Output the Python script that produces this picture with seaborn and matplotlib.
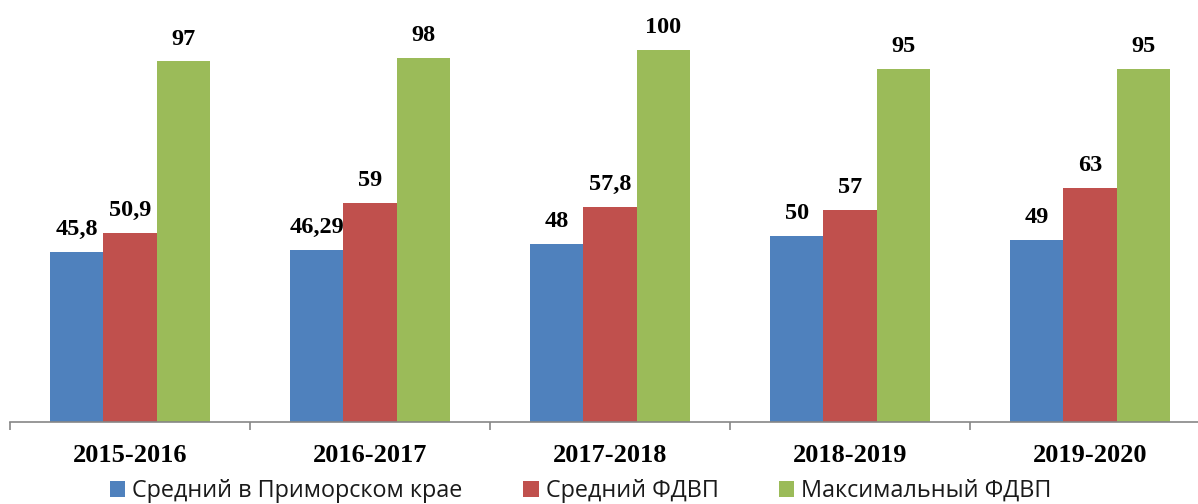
import matplotlib
matplotlib.use("Agg")
import matplotlib.pyplot as plt
import seaborn as sns
import pandas as pd
from matplotlib.ticker import FixedLocator

categories = ["2015-2016", "2016-2017", "2017-2018", "2018-2019", "2019-2020"]
series_names = ["Средний в Приморском крае", "Средний ФДВП", "Максимальный ФДВП"]
avg_primorsky = [45.8, 46.29, 48, 50, 49]
avg_fdvp = [50.9, 59, 57.8, 57, 63]
max_fdvp = [97, 98, 100, 95, 95]
colors = ["#4F81BD", "#C0504D", "#9BBB59"]

rows = []
for name, vals in zip(series_names, [avg_primorsky, avg_fdvp, max_fdvp]):
    for c, v in zip(categories, vals):
        rows.append({"period": c, "series": name, "value": v})
df = pd.DataFrame(rows)

sns.set_theme(style="white")
plt.rcParams["font.family"] = ["DejaVu Sans"]

fig = plt.figure(figsize=(11.98, 5.04), dpi=100)
W, H = 1198, 504
ax = fig.add_axes([10 / W, 82 / H, 1200 / W, 409 / H])

sns.barplot(data=df, x="period", y="value", hue="series", palette=colors,
            width=2 / 3, saturation=1, order=categories, hue_order=series_names,
            ax=ax, errorbar=None, linewidth=0)

ax.set_xlim(-0.5, 4.5)
ax.set_ylim(0, 110)

for cont in ax.containers:
    labels = [f"{b.get_height():g}".replace(".", ",") for b in cont]
    ax.bar_label(cont, labels=labels, padding=8.5, fontsize=17.5, fontweight="bold",
                 family="Liberation Serif", color="black")

for s in ["top", "right", "left"]:
    ax.spines[s].set_visible(False)
ax.spines["bottom"].set_color("#868686")
ax.spines["bottom"].set_linewidth(1.2)
ax.set_yticks([])
ax.set_xlabel("")
ax.set_ylabel("")
ax.tick_params(axis="x", which="major", length=0, pad=16, bottom=False)
ax.xaxis.set_minor_locator(FixedLocator([-0.5, 0.5, 1.5, 2.5, 3.5, 4.5]))
ax.tick_params(axis="x", which="minor", length=5.5, width=1.2, color="#868686",
               direction="out", bottom=True)
for t in ax.get_xticklabels():
    t.set_fontfamily("Liberation Serif")
    t.set_fontweight("bold")
    t.set_fontsize(19)
    t.set_color("black")

handles, labels = ax.get_legend_handles_labels()
ax.get_legend().remove()
leg = fig.legend(handles, labels, loc="center", bbox_to_anchor=(581 / W, 1 - 491 / H),
                 ncol=3, frameon=False, prop={"family": "Open Sans", "size": 16.8},
                 handlelength=0.65, handleheight=0.65, handletextpad=0.3, columnspacing=2.6,
                 borderpad=0, borderaxespad=0)
for t in leg.get_texts():
    t.set_color("#1a1a1a")

fig.savefig("out.png", dpi=100)
